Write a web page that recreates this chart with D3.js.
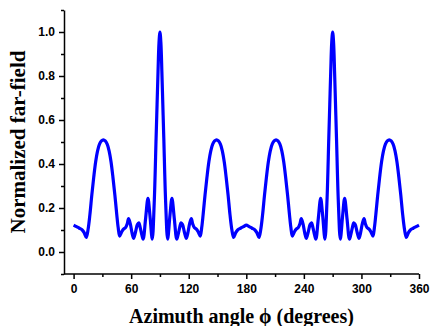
<!DOCTYPE html>
<html>
<head>
<meta charset="utf-8">
<script src="https://cdn.jsdelivr.net/npm/d3@7"></script>
<style>
  html, body { margin: 0; padding: 0; background: #ffffff; }
  svg { display: block; }
  .tick text { font-family: Arial, "Liberation Sans", sans-serif; font-weight: bold; font-size: 12px; fill: #000; }
  .axis-title { font-family: "Times New Roman", "Liberation Serif", serif; font-weight: bold; fill: #000; }
</style>
</head>
<body>
<svg id="chart" width="430" height="326"></svg>
<script>
// Azimuth angles (degrees) of the sampled far-field pattern
const azimuth = [
  0, 3, 6, 9, 11, 13.2, 15, 17, 19, 21, 23, 25, 27, 29, 31, 33, 35, 37, 39, 41, 43, 45, 46.5, 48,
  50, 52, 54, 56, 57.3, 59, 61, 62.5, 64.5, 66.5, 68, 69.5, 71, 72.5, 75, 77.5, 79.5, 82,
  84, 86, 87, 88, 89, 90, 91, 92, 93, 94, 96,
  98, 100.5, 102.5, 105, 107.5, 109, 110.5, 112, 113.5, 115.5, 117.5, 119, 121, 122.7, 124, 126, 128, 130,
  132, 133.5, 135, 137, 139, 141, 143, 145, 147, 149, 151, 153, 155, 157, 159, 161, 163, 165, 166.8,
  169, 171, 174, 177, 180,
  183, 186, 189, 191, 193.2, 195, 197, 199, 201, 203, 205, 207, 209, 211, 213, 215, 217, 219, 221, 223, 225, 226.5, 228,
  230, 232, 234, 236, 237.3, 239, 241, 242.5, 244.5, 246.5, 248, 249.5, 251, 252.5, 255, 257.5, 259.5, 262,
  264, 266, 267, 268, 269, 270, 271, 272, 273, 274, 276,
  278, 280.5, 282.5, 285, 287.5, 289, 290.5, 292, 293.5, 295.5, 297.5, 299, 301, 302.7, 304, 306, 308, 310,
  312, 313.5, 315, 317, 319, 321, 323, 325, 327, 329, 331, 333, 335, 337, 339, 341, 343, 345, 346.8,
  349, 351, 354, 357, 360
];

// Normalized far-field magnitude at each azimuth
const farField = [
  0.122, 0.115, 0.108, 0.100, 0.088, 0.066, 0.10, 0.17, 0.26, 0.34, 0.41, 0.46, 0.49, 0.505, 0.51, 0.505, 0.49, 0.46, 0.41, 0.34, 0.26, 0.17, 0.11, 0.072,
  0.09, 0.104, 0.11, 0.13, 0.152, 0.13, 0.085, 0.062, 0.09, 0.125, 0.133, 0.11, 0.08, 0.058, 0.15, 0.244, 0.17, 0.058,
  0.22, 0.52, 0.67, 0.82, 0.95, 1.0, 0.95, 0.82, 0.67, 0.52, 0.22,
  0.058, 0.17, 0.244, 0.15, 0.058, 0.08, 0.11, 0.133, 0.125, 0.09, 0.062, 0.085, 0.13, 0.152, 0.13, 0.11, 0.104, 0.09,
  0.072, 0.11, 0.17, 0.26, 0.34, 0.41, 0.46, 0.49, 0.505, 0.51, 0.505, 0.49, 0.46, 0.41, 0.34, 0.26, 0.17, 0.10, 0.066,
  0.088, 0.100, 0.108, 0.115, 0.122,
  0.115, 0.108, 0.100, 0.088, 0.066, 0.10, 0.17, 0.26, 0.34, 0.41, 0.46, 0.49, 0.505, 0.51, 0.505, 0.49, 0.46, 0.41, 0.34, 0.26, 0.17, 0.11, 0.072,
  0.09, 0.104, 0.11, 0.13, 0.152, 0.13, 0.085, 0.062, 0.09, 0.125, 0.133, 0.11, 0.08, 0.058, 0.15, 0.244, 0.17, 0.058,
  0.22, 0.52, 0.67, 0.82, 0.95, 1.0, 0.95, 0.82, 0.67, 0.52, 0.22,
  0.058, 0.17, 0.244, 0.15, 0.058, 0.08, 0.11, 0.133, 0.125, 0.09, 0.062, 0.085, 0.13, 0.152, 0.13, 0.11, 0.104, 0.09,
  0.072, 0.11, 0.17, 0.26, 0.34, 0.41, 0.46, 0.49, 0.505, 0.51, 0.505, 0.49, 0.46, 0.41, 0.34, 0.26, 0.17, 0.10, 0.066,
  0.088, 0.100, 0.108, 0.115, 0.122
];

const xMajorTicks = [0, 60, 120, 180, 240, 300, 360];
const xMinorTicks = [30, 90, 150, 210, 270, 330];
const yMajorTicks = [0.0, 0.2, 0.4, 0.6, 0.8, 1.0];
const yMinorTicks = [-0.1, 0.1, 0.3, 0.5, 0.7, 0.9, 1.1];

const xTitle = "Azimuth angle \u03D5 (degrees)";
const yTitle = "Normalized far-field";

const svg = d3.select("#chart");

const x = d3.scaleLinear().domain([-10, 360]).range([64, 419]);
const y = d3.scaleLinear().domain([-0.1, 1.1]).range([274, 10]);

// Curve
const points = azimuth.map((a, i) => [a, farField[i]]);
const line = d3.line()
  .x(d => x(d[0]))
  .y(d => y(d[1]))
  .curve(d3.curveCatmullRom.alpha(0.5));

svg.append("path")
  .datum(points)
  .attr("fill", "none")
  .attr("stroke", "#0000ff")
  .attr("stroke-width", 3.2)
  .attr("stroke-linejoin", "round")
  .attr("d", line);

// X axis: labelled major ticks plus minor ticks
const xAxis = svg.append("g").attr("transform", `translate(0,${y.range()[0]})`);
xAxis.call(d3.axisBottom(x).tickValues(xMajorTicks).tickFormat(d3.format("d")).tickSize(5).tickSizeOuter(0).tickPadding(5));
xAxis.append("g").call(d3.axisBottom(x).tickValues(xMinorTicks).tickFormat("").tickSize(3).tickSizeOuter(0))
  .select(".domain").remove();
xAxis.select(".domain").attr("d", `M${x.range()[0]},0H${x.range()[1]}`);

// Y axis
const yAxis = svg.append("g").attr("transform", `translate(${x.range()[0]},0)`);
yAxis.call(d3.axisLeft(y).tickValues(yMajorTicks).tickFormat(d3.format(".1f")).tickSize(5).tickSizeOuter(0).tickPadding(4));
yAxis.append("g").call(d3.axisLeft(y).tickValues(yMinorTicks).tickFormat("").tickSize(3).tickSizeOuter(0))
  .select(".domain").remove();

svg.selectAll(".domain, .tick line").attr("stroke", "#000").attr("stroke-width", 1.5);

// Axis titles
svg.append("text")
  .attr("class", "axis-title")
  .attr("font-size", 20)
  .attr("x", (x.range()[0] + x.range()[1]) / 2)
  .attr("y", 323)
  .attr("text-anchor", "middle")
  .text(xTitle);

svg.append("text")
  .attr("class", "axis-title")
  .attr("font-size", 21)
  .attr("transform", `translate(25,${(y.range()[0] + y.range()[1]) / 2}) rotate(-90)`)
  .attr("text-anchor", "middle")
  .text(yTitle);
</script>
</body>
</html>
